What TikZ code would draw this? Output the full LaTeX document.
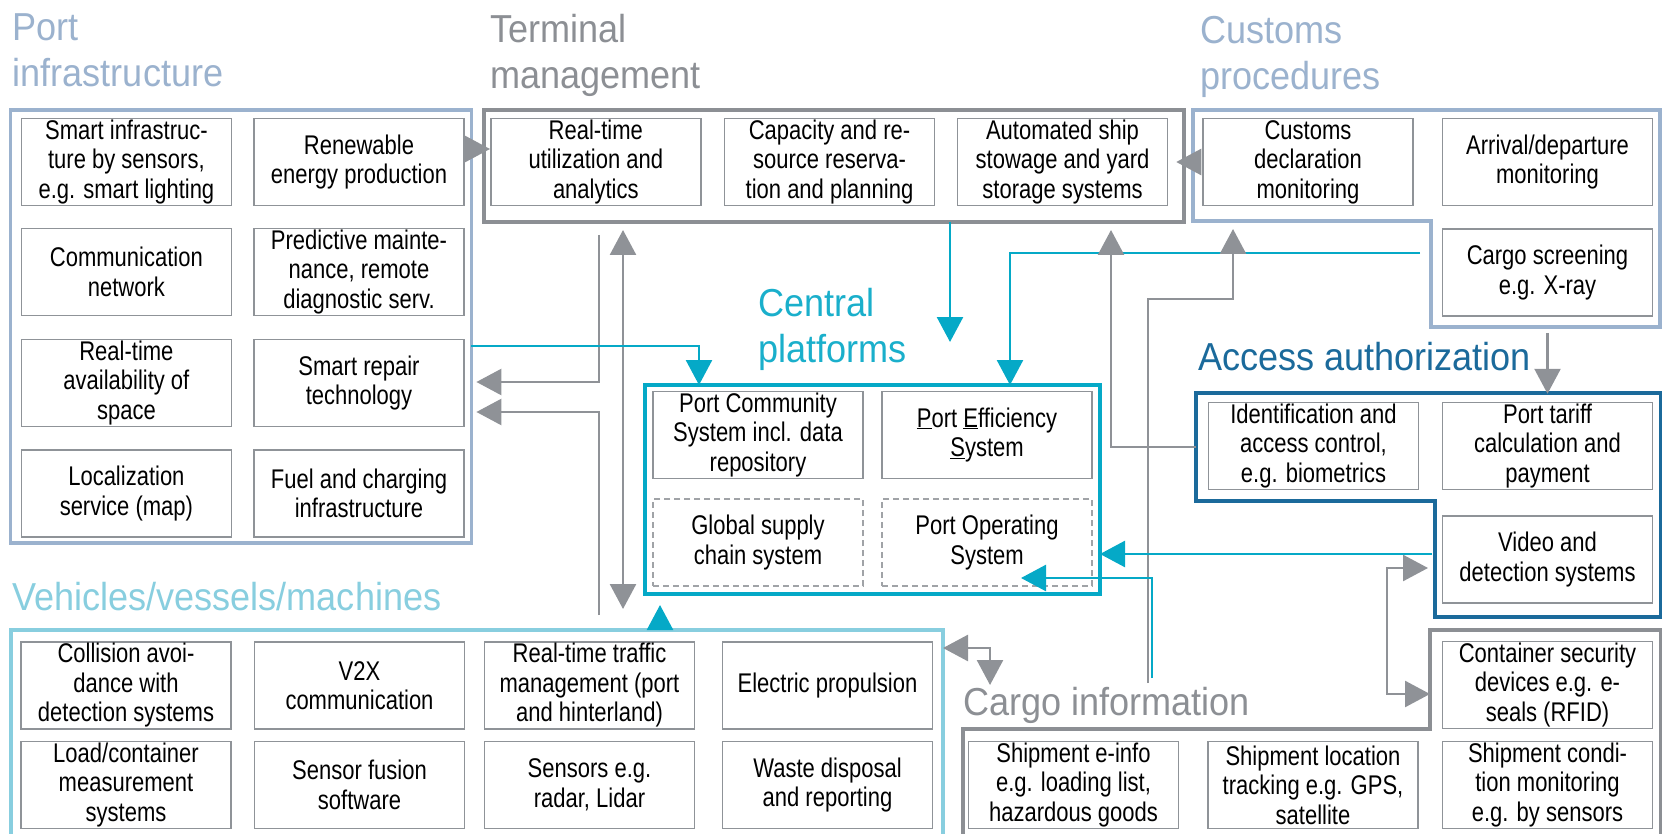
\documentclass[tikz,border=0pt]{standalone}
\usepackage{fontspec}
\usetikzlibrary{arrows.meta}
\newfontfamily\boxfont[FakeStretch=0.815]{Liberation Sans}
\newfontfamily\headfont[FakeStretch=0.925]{Liberation Sans}
\definecolor{infblue}{HTML}{9BB2CE}
\definecolor{termgray}{HTML}{8C8F94}
\definecolor{argray}{HTML}{8F9297}
\definecolor{boxgray}{HTML}{8F9398}
\definecolor{cencyan}{HTML}{05A9C7}
\definecolor{centitle}{HTML}{1AAFCB}
\definecolor{accblue}{HTML}{1B6A9B}
\definecolor{vehcyan}{HTML}{88CEDF}
\tikzset{
  ibox/.style={draw=boxgray, line width=1.5pt, fill=white, minimum width=210pt,
    minimum height=87pt, inner sep=0pt, align=center,
    font=\boxfont\fontsize{27}{29.5}\selectfont},
  dbox/.style={ibox, draw=boxgray!85, dash pattern=on 6pt off 4pt},
  grp/.style={inner sep=0pt, outer sep=0pt},
  head/.style={anchor=base west, inner sep=0pt, align=left,
    font=\headfont\fontsize{39}{46}\selectfont},
  >={Triangle[length=25pt,width=26pt]},
  garr/.style={draw=argray, line width=2.6pt, ->},
  garrb/.style={draw=argray, line width=2.6pt, <->},
  carr/.style={draw=cencyan, line width=2.6pt, ->},
}
\begin{document}
\begin{tikzpicture}[x=1pt, y=-1pt, line join=miter]
\path[use as bounding box] (0,0) rectangle (1662,834);
\clip (0,0) rectangle (1662,834);

% ---------- group headings (anchored on the last baseline) ----------
\node[head, text=infblue] (hpi) at (12.5,87) {Port\\infrastructure};
\node[head, text=termgray] (htm) at (490,89) {Terminal\\management};
\node[head, text=infblue] (hcu) at (1200,90) {Customs\\procedures};
\node[head, text=centitle] (hcp) at (758,362) {Central\\platforms};
\node[head, text=accblue] (hac) at (1198,370) {Access authorization};
\node[head, text=vehcyan] (hvh) at (12,610) {Vehicles/vessels/machines};
\node[head, text=termgray] (hcg) at (963,715) {Cargo information};

% ---------- group frames ----------
\node[grp, draw=infblue, line width=3.5pt, minimum width=460.7pt, minimum height=433pt] (pibox) at (241.05,326.5) {};
\node[grp, draw=termgray, line width=4.5pt, minimum width=700pt, minimum height=112pt] (tmbox) at (834,166) {};
\node[grp, draw=cencyan, line width=4pt, minimum width=455pt, minimum height=209pt] (cpbox) at (872.5,489.5) {};
\node[grp, draw=vehcyan, line width=3.5pt, minimum width=932pt, minimum height=210pt] (vhbox) at (477,735) {};
% customs procedures (stepped outline)
\draw[draw=infblue, line width=3.5pt] (1193,110) -- (1660,110) -- (1660,327) -- (1431,327)
  -- (1431,221) -- (1193,221) -- cycle;
% access authorization (stepped outline)
\draw[draw=accblue, line width=4.5pt] (1196,393) -- (1661,393) -- (1661,617) -- (1435,617)
  -- (1435,501) -- (1196,501) -- cycle;
% cargo information (stepped outline)
\draw[draw=termgray, line width=4.5pt] (963,845) -- (963,729) -- (1430,729) -- (1430,630)
  -- (1661,630) -- (1661,845);

% ---------- port infrastructure ----------
\node[ibox] (pi11) at (126.4,162) {Smart infrastruc-\\ture by sensors,\\e.g. smart lighting};
\node[ibox] (pi12) at (359,162) {Renewable\\energy production};
\node[ibox] (pi21) at (126.4,272) {Communication\\network};
\node[ibox] (pi22) at (359,272) {Predictive mainte-\\nance, remote\\diagnostic serv.};
\node[ibox] (pi31) at (126.4,383) {Real-time\\availability of\\space};
\node[ibox] (pi32) at (359,383) {Smart repair\\technology};
\node[ibox] (pi41) at (126.4,493.5) {Localization\\service (map)};
\node[ibox] (pi42) at (359,493.5) {Fuel and charging\\infrastructure};

% ---------- terminal management ----------
\node[ibox] (tm1) at (595.8,162) {Real-time\\utilization and\\analytics};
\node[ibox] (tm2) at (829.5,162) {Capacity and re-\\source reserva-\\tion and planning};
\node[ibox] (tm3) at (1062.5,162) {Automated ship\\stowage and yard\\storage systems};

% ---------- customs procedures ----------
\node[ibox] (cu1) at (1308,162) {Customs\\declaration\\monitoring};
\node[ibox] (cu2) at (1547.5,162) {Arrival/departure\\monitoring};
\node[ibox] (cu3) at (1547.5,272.5) {Cargo screening\\e.g. X-ray};

% ---------- access authorization ----------
\node[ibox] (ac1) at (1313.5,446) {Identification and\\access control,\\e.g. biometrics};
\node[ibox] (ac2) at (1547.5,446) {Port tariff\\calculation and\\payment};
\node[ibox] (ac3) at (1547.5,559.5) {Video and\\detection systems};

% ---------- central platforms ----------
\node[ibox] (cp1) at (758,435) {Port Community\\System incl. data\\repository};
\node[ibox] (cp2) at (987,435) {\underline{P}ort \underline{E}fficiency\\\underline{S}ystem};
\node[dbox] (cp3) at (758,542.5) {Global supply\\chain system};
\node[dbox] (cp4) at (987,542.5) {Port Operating\\System};

% ---------- vehicles / vessels / machines ----------
\node[ibox] (v11) at (126,685.5) {Collision avoi-\\dance with\\detection systems};
\node[ibox] (v12) at (359.5,685.5) {V2X\\communication};
\node[ibox] (v13) at (589.5,685.5) {Real-time traffic\\management (port\\and hinterland)};
\node[ibox] (v14) at (827.5,685.5) {Electric propulsion};
\node[ibox] (v21) at (126,785) {Load/container\\measurement\\systems};
\node[ibox] (v22) at (359.5,785) {Sensor fusion\\software};
\node[ibox] (v23) at (589.5,785) {Sensors e.g.\\radar, Lidar};
\node[ibox] (v24) at (827.5,785) {Waste disposal\\and reporting};

% ---------- cargo information ----------
\node[ibox] (cg1) at (1547.5,685) {Container security\\devices e.g. e-\\seals (RFID)};
\node[ibox] (cg2) at (1073.5,785) {Shipment e-info\\e.g. loading list,\\hazardous goods};
\node[ibox] (cg3) at (1313,785) {Shipment location\\tracking e.g. GPS,\\satellite};
\node[ibox] (cg4) at (1547.5,785) {Shipment condi-\\tion monitoring\\e.g. by sensors};

% ---------- connectors ----------
% infrastructure -> terminal, customs -> terminal
\draw[garr] (pibox.east |- 0,149) -- (tm1.west |- 0,149);
\draw[garr] ([xshift=-10pt]cu1.west) -- ([xshift=8pt]tm3.east);
% terminal / vehicles -> infrastructure
\draw[garr, shorten >=5pt] (599,235) |- (pibox.east |- 0,382);
\draw[garr, shorten >=5pt] (599,615) |- (pibox.east |- 0,412);
% terminal <-> vehicles
\draw[garrb] (623,230) -- (623,609);
% infrastructure -> central platforms
\draw[carr] (pibox.east |- 0,346) -| (cpbox.north -| 699,0);
% vehicles -> central platforms
\draw[carr] (vhbox.north -| 660,0) -- ++(0,-25);
% terminal -> central platforms
\draw[carr] (tmbox.south -| 950,0) -- (950,342);
% customs -> central platforms
\draw[carr] (1420,253) -| (cpbox.north -| 1010,0);
% access -> terminal
\draw[garr, shorten >=8pt] (1196,447) -| (tmbox.south -| 1111,0);
% cargo -> customs
\draw[garr] (1148,683) |- (1233,299) -- (1233,229);
% access -> central platforms
\draw[carr] (1432,554) -- (cpbox.east |- 0,554);
% cargo -> central platforms
\draw[carr] (1152,678) |- (1021,578);
% access <-> cargo
\draw[garrb] (1428,568) -| (1387,694) -- (1430,694);
% customs -> access
\draw[garr] ([yshift=-16pt]cu3.south) -- ([yshift=8pt]ac2.north);
% vehicles <-> cargo
\draw[garrb] (vhbox.east |- 0,648) -| (990,685);
\end{tikzpicture}
\end{document}
